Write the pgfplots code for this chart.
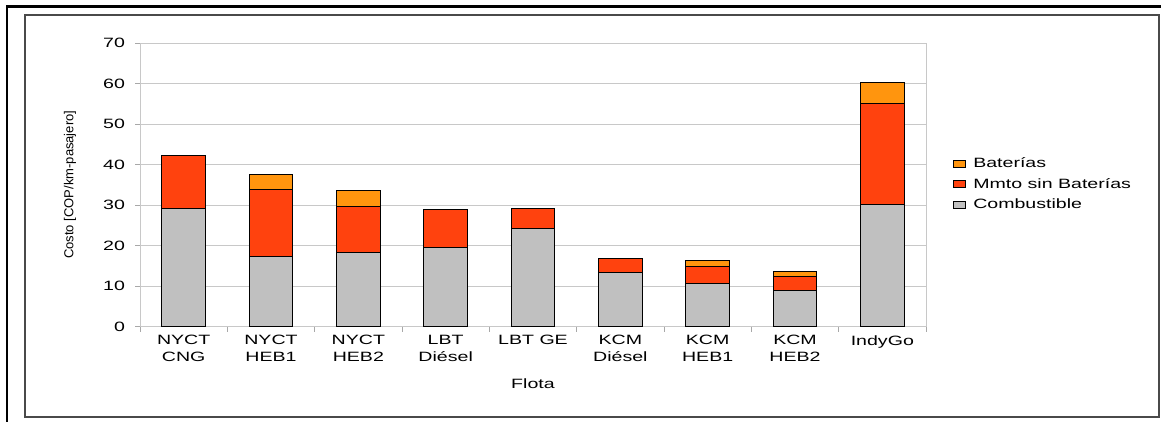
\documentclass[border=0pt]{standalone}
\usepackage{fontspec}
\setmainfont{Liberation Sans}[FakeStretch=1.45]
\newfontfamily\ylabfont{Liberation Sans}
\usepackage{pgfplots}
\pgfplotsset{compat=1.18}
\definecolor{cgray}{HTML}{C0C0C0}
\definecolor{cred}{HTML}{FF420E}
\definecolor{corange}{HTML}{FF950E}
\definecolor{gridc}{HTML}{C8C8C8}
\definecolor{axc}{HTML}{A8A8A8}
\definecolor{framec}{HTML}{4A4A4A}
\begin{document}
\begin{tikzpicture}
\useasboundingbox (0,0) rectangle (1161bp,422bp);
\clip (0,0) rectangle (1161bp,422bp);
% outer frame
\draw[black, line width=2.2bp] (7bp,-10bp) -- (7bp,415.5bp) -- (1180bp,415.5bp);
\draw[framec, line width=2bp] (25bp,5.3bp) rectangle (1159bp,407bp);
\begin{axis}[
  at={(140bp,95.5bp)}, anchor=south west,
  scale only axis, width=786bp, height=283.5bp,
  ybar stacked, bar width=0.5,
  xmin=-0.5, xmax=8.5, ymin=0, ymax=70,
  xtick={0,...,8},
  xticklabels={{NYCT\\CNG},{NYCT\\HEB1},{NYCT\\HEB2},{LBT\\Diésel},{LBT GE},{KCM\\Diésel},{KCM\\HEB1},{KCM\\HEB2},{IndyGo}},
  x tick label style={align=center, font=\fontsize{13.5bp}{16.5bp}\selectfont, yshift=-0.5bp},
  y tick label style={font=\fontsize{13.5bp}{15bp}\selectfont, xshift=-6.5bp},
  /pgf/number format/assume math mode=true,
  ytick={0,10,...,70},
  xtick pos=bottom, ytick pos=left,
  tick align=outside, major tick length=5bp,
  xtick style={draw=none},
  ytick style={draw=axc, line width=0.8bp},
  extra x ticks={-0.5,0.5,...,8.5},
  extra x tick labels={},
  extra x tick style={xtick style={draw=axc, line width=0.8bp}},
  ymajorgrids, grid style={draw=gridc, line width=1bp},
  axis line style={draw=gridc, line width=1bp},
  xlabel={Flota},
  xlabel style={at={(axis description cs:0.5,-0.2)}, anchor=center, font=\fontsize{13.5bp}{15bp}\selectfont},
  ylabel={\ylabfont Costo [COP/km-pasajero]},
  ylabel style={at={(axis description cs:-0.089,0.5)}, anchor=center, font=\fontsize{13bp}{14bp}\selectfont},
  legend image code/.code={\draw[#1, draw=black, line width=0.6bp] (0bp,-3.5bp) rectangle (12bp,3.5bp);},
  reverse legend,
  legend cell align=left,
  legend style={draw=none, fill=none, at={(1.0305,0.5026)}, anchor=west,
    font=\fontsize{13.5bp}{15bp}\selectfont, row sep=4bp,
    nodes={inner sep=2.5bp},
    /tikz/every odd column/.append style={column sep=5bp}},
]
\addplot[fill=cgray, draw=black, line width=0.8bp] coordinates {(0,29.2) (1,17.3) (2,18.3) (3,19.6) (4,24.1) (5,13.4) (6,10.7) (7,9.0) (8,30.2)};
\addlegendentry{Combustible}
\addplot[fill=cred, draw=black, line width=0.8bp] coordinates {(0,13.1) (1,16.5) (2,11.4) (3,9.2) (4,5.0) (5,3.3) (6,4.1) (7,3.3) (8,24.8)};
\addlegendentry{Mmto sin Baterías}
\addplot[fill=corange, draw=black, line width=0.8bp] coordinates {(0,0) (1,3.7) (2,3.8) (3,0) (4,0) (5,0) (6,1.4) (7,1.2) (8,5.2)};
\addlegendentry{Baterías}
\end{axis}
\end{tikzpicture}
\end{document}
